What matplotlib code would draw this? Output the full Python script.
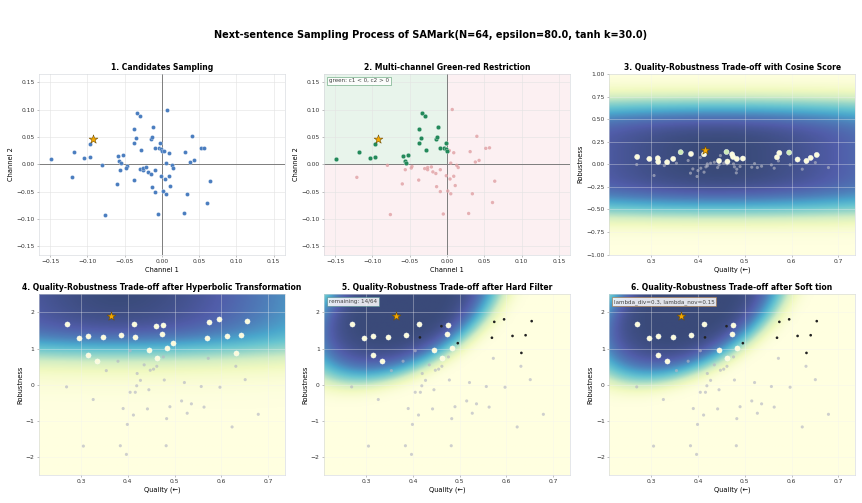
import numpy as np
import matplotlib
matplotlib.use("Agg")
import matplotlib.pyplot as plt
from matplotlib.patches import Rectangle

# ---- panel 1/2 : candidate channels (star = chosen) ----
ch1 = [-0.149, -0.118, -0.121, -0.104, -0.096, -0.096, -0.080, -0.076, -0.059, -0.057,
       -0.055, -0.056, -0.052, -0.060, -0.047, -0.048, -0.038, -0.037, -0.035, -0.038,
       -0.033, -0.029, -0.028, -0.030, -0.026, -0.026, -0.021, -0.019, -0.015, -0.014,
       -0.015, -0.013, -0.012, -0.009, -0.009, -0.009, -0.005, -0.004, -0.002, -0.001,
       -0.0005, -0.001, 0.001, 0.003, 0.005, 0.004, 0.005, 0.007, 0.009, 0.009,
       0.011, 0.013, 0.015, 0.029, 0.031, 0.034, 0.038, 0.040, 0.043, 0.052,
       0.057, 0.061, 0.064]
ch2 = [0.010, 0.023, -0.024, 0.012, 0.013, 0.037, -0.002, -0.092, 0.015, 0.006,
       0.002, -0.010, 0.016, -0.036, -0.004, -0.007, 0.039, 0.065, 0.048, -0.029,
       0.094, 0.089, 0.026, -0.008, -0.010, -0.006, -0.005, -0.014, -0.017, -0.041,
       0.047, 0.050, 0.068, 0.030, -0.010, -0.050, -0.091, 0.030, 0.039, 0.028,
       0.025, -0.021, -0.049, 0.025, 0.002, -0.027, -0.054, 0.100, 0.021, -0.022,
       -0.039, -0.002, -0.006, -0.090, 0.023, -0.054, 0.004, 0.051, 0.007, 0.029,
       0.030, -0.070, -0.031]
star_ch = (-0.092, 0.047)

# ---- panel 3 : cosine score ----
q3_sel = [0.270, 0.296, 0.314, 0.315, 0.334, 0.347, 0.363, 0.385, 0.413, 0.445, 0.461, 0.463,
          0.473, 0.475, 0.483, 0.496, 0.569, 0.574, 0.595, 0.613, 0.632, 0.641, 0.654]
r3_sel = [0.081, 0.059, 0.066, 0.026, 0.022, 0.059, 0.133, 0.114, 0.110, 0.037, 0.136, 0.029,
          0.110, 0.081, 0.059, 0.063, 0.077, 0.125, 0.129, 0.052, 0.037, 0.070, 0.103]
q3_rest = [0.269, 0.306, 0.328, 0.354, 0.379, 0.384, 0.389, 0.398, 0.400, 0.405, 0.406, 0.413,
           0.417, 0.420, 0.420, 0.427, 0.435, 0.442, 0.445, 0.448, 0.455, 0.462, 0.476, 0.478,
           0.482, 0.483, 0.490, 0.515, 0.521, 0.527, 0.536, 0.557, 0.563, 0.572, 0.597, 0.623,
           0.631, 0.651, 0.679]
r3_rest = [-0.004, -0.125, -0.015, 0.011, 0.041, -0.099, -0.052, -0.136, -0.070, 0.074, -0.044,
           -0.088, -0.029, 0.004, -0.018, 0.011, 0.022, -0.037, -0.007, 0.096, 0.011, 0.004,
           0.004, -0.029, -0.096, -0.055, -0.026, -0.033, 0.007, -0.037, -0.022, -0.007, -0.044,
           0.037, -0.007, -0.055, 0.018, 0.018, -0.037]
star3 = (0.415, 0.155)

# ---- panels 4-6 : after hyperbolic transform ----
q4_sel = [0.270, 0.296, 0.314, 0.315, 0.334, 0.347, 0.385, 0.413, 0.415, 0.445, 0.461, 0.463,
          0.473, 0.475, 0.483, 0.496, 0.569, 0.574, 0.595, 0.613, 0.632, 0.641, 0.654]
r4_sel = [1.69, 1.28, 1.36, 0.81, 0.67, 1.32, 1.39, 1.69, 1.31, 0.97, 1.62, 0.73,
          1.41, 1.65, 1.03, 1.15, 1.30, 1.74, 1.81, 1.35, 0.88, 1.37, 1.76]
kept = [1, 1, 1, 1, 1, 1, 1, 1, 0, 1, 0, 1,
        1, 1, 1, 0, 0, 0, 0, 0, 0, 0, 0]
q4_rest = [0.269, 0.305, 0.326, 0.354, 0.379, 0.384, 0.390, 0.397, 0.399, 0.405, 0.405, 0.412,
           0.416, 0.419, 0.420, 0.427, 0.435, 0.442, 0.445, 0.448, 0.455, 0.462, 0.476, 0.478,
           0.482, 0.483, 0.490, 0.515, 0.521, 0.527, 0.536, 0.557, 0.563, 0.572, 0.597, 0.623,
           0.631, 0.651, 0.679]
r4_rest = [-0.06, -1.70, -0.41, 0.39, 0.65, -1.69, -0.66, -1.93, -1.10, 0.94, -0.21, -0.84,
           -0.21, -0.03, 0.31, 0.12, 0.55, -0.67, -0.14, 0.40, 0.43, 0.51, 0.77, 0.13,
           -1.69, -0.94, -0.61, -0.45, 0.06, -0.79, -0.53, -0.05, -0.62, 0.73, -0.07, -1.17,
           0.51, 0.14, -0.82]
star4 = (0.364, 1.89)

XL = (0.21, 0.736)
cmap = "YlGnBu"
STAR = dict(marker="*", s=190, color="#f5a800", edgecolor="#6b4a00", linewidth=0.8, zorder=6)
GRAY = dict(s=22, color="#b4b6c4", alpha=0.65, edgecolor="none", zorder=3)


def style(ax):
    ax.grid(True, color="#e4e4e4", lw=0.9)
    ax.set_axisbelow(True)
    for sp in ax.spines.values():
        sp.set_color("#cfd3d8")
    ax.tick_params(labelsize=9, colors="#333333", length=3, color="#888888")


def heat(ax, z):
    ax.imshow(z, extent=(XL[0], XL[1], ylim[0], ylim[1]), origin="lower", aspect="auto",
              cmap=cmap, vmin=0, vmax=1, alpha=0.8, zorder=0, interpolation="bilinear")
    ax.grid(True, color="#f2f2f2", lw=0.9, alpha=0.55)


fig = plt.figure(figsize=(862 / 48, 503 / 48), dpi=48)
axs = fig.subplots(2, 3)
fig.subplots_adjust(left=0.0452, right=0.992, top=0.853, bottom=0.0557, wspace=0.159, hspace=0.221)
fig.suptitle("Next-sentence Sampling Process of SAMark(N=64, epsilon=80.0, tanh k=30.0)",
             fontsize=14.6, fontweight="bold", y=0.94)

c1 = np.array(ch1)
c2 = np.array(ch2)
green = (c1 < 0) & (c2 > 0)
lim = (-0.165, 0.165)
ticks = [-0.15, -0.10, -0.05, 0.0, 0.05, 0.10, 0.15]

# 1
ax = axs[0, 0]
style(ax)
ax.axhline(0, color="#808080", lw=1.5, zorder=1)
ax.axvline(0, color="#808080", lw=1.5, zorder=1)
ax.scatter(c1, c2, s=38, color="#4a7dbf", edgecolor="white", linewidth=0.4, zorder=3)
ax.scatter(*star_ch, **STAR)
ax.set_xlim(lim); ax.set_ylim(lim)
ax.set_xticks(ticks); ax.set_yticks(ticks)
ax.set_title("1. Candidates Sampling", fontsize=11.5, fontweight="bold")
ax.set_xlabel("Channel 1", fontsize=10); ax.set_ylabel("Channel 2", fontsize=10)

# 2
ax = axs[0, 1]
style(ax)
ax.set_facecolor("#fcf0f2")
ax.add_patch(Rectangle((lim[0], 0), -lim[0], lim[1], color="#e8f4eb", zorder=0))
ax.axhline(0, color="#808080", lw=1.5, zorder=1)
ax.axvline(0, color="#808080", lw=1.5, zorder=1)
ax.scatter(c1[~green], c2[~green], s=26, color="#e0a0a4", alpha=0.8, edgecolor="none", zorder=3)
ax.scatter(c1[green], c2[green], s=46, color="#23895a", edgecolor="white", linewidth=0.4, zorder=4)
ax.scatter(*star_ch, **STAR)
ax.set_xlim(lim); ax.set_ylim(lim)
ax.set_xticks(ticks); ax.set_yticks(ticks)
ax.text(0.02, 0.975, "green: c1 < 0, c2 > 0", transform=ax.transAxes, fontsize=8.5, va="top",
        color="#444444", bbox=dict(boxstyle="square,pad=0.3", fc="white", ec="#5a9f72", alpha=0.85))
ax.set_title("2. Multi-channel Green-red Restriction", fontsize=11.5, fontweight="bold")
ax.set_xlabel("Channel 1", fontsize=10); ax.set_ylabel("Channel 2", fontsize=10)

# 3
ax = axs[0, 2]
style(ax)
ylim = (-1.0, 1.0)
X, Y = np.meshgrid(np.linspace(*XL, 200), np.linspace(*ylim, 200))
z3 = np.exp(-((Y - 0.08) / 0.63) ** 4) * np.exp(-((X - 0.44) / 0.7) ** 2)
heat(ax, z3)
ax.scatter(q3_rest, r3_rest, **GRAY)
cols = np.where(np.array(r3_sel) > 0.128, "#cdebb8", "#fbfbdb")
ax.scatter(q3_sel, r3_sel, s=60, c=cols, edgecolor="white", linewidth=0.6, zorder=4)
ax.scatter(*star3, **STAR)
ax.set_xlim(XL); ax.set_ylim(ylim)
ax.set_yticks(np.arange(-1, 1.01, 0.25))
ax.yaxis.set_major_formatter("{x:.2f}")
ax.set_title("3. Quality-Robustness Trade-off with Cosine Score", fontsize=11.5, fontweight="bold")
ax.set_xlabel("Quality (←)", fontsize=10); ax.set_ylabel("Robustness", fontsize=10)

# 4-6
ylim = (-2.5, 2.5)
X, Y = np.meshgrid(np.linspace(*XL, 200), np.linspace(*ylim, 200))
z4 = 1 / (1 + np.exp(-(Y - 0.95) / 0.3)) * np.exp(-((X - 0.38) / 0.6) ** 2)
U = (X - 0.38) / 0.26
V = (Y - 2.2) / 2.05
d2 = 1.56 * U ** 2 - 1.11 * U * V + 1.0 * V ** 2
z5 = np.exp(-1.6 * d2 ** 3)
titles = ["4. Quality-Robustness Trade-off after Hyperbolic Transformation",
          "5. Quality-Robustness Trade-off after Hard Filter",
          "6. Quality-Robustness Trade-off after Soft tion"]
qs = np.array(q4_sel); rs = np.array(r4_sel); kp = np.array(kept, bool)
for i, ax in enumerate(axs[1]):
    style(ax)
    heat(ax, z4 if i == 0 else z5)
    ax.scatter(q4_rest, r4_rest, **GRAY)
    if i == 0:
        ax.scatter(qs, rs, s=60, color="#fbfbdb", edgecolor="white", linewidth=0.6, zorder=4)
    else:
        ax.scatter(qs[kp], rs[kp], s=60, color="#fbfbdb", edgecolor="white", linewidth=0.6, zorder=4)
        ax.scatter(qs[~kp], rs[~kp], s=16, color="#222222", edgecolor="none", zorder=4)
    ax.scatter(*star4, **STAR)
    ax.set_xlim(XL); ax.set_ylim(ylim)
    ax.set_yticks([-2, -1, 0, 1, 2])
    ax.set_title(titles[i], fontsize=11.5, fontweight="bold")
    ax.set_xlabel("Quality (←)", fontsize=10); ax.set_ylabel("Robustness", fontsize=10)

axs[1, 1].text(0.02, 0.975, "remaining: 14/64", transform=axs[1, 1].transAxes, fontsize=8.5,
               va="top", color="#444444",
               bbox=dict(boxstyle="square,pad=0.3", fc="white", ec="#4f8a8a", alpha=0.85))
axs[1, 2].text(0.02, 0.975, "lambda_div=0.3, lambda_nov=0.15", transform=axs[1, 2].transAxes,
               fontsize=8.5, va="top", color="#444444",
               bbox=dict(boxstyle="square,pad=0.3", fc="white", ec="#a8743c", alpha=0.85))

fig.savefig("out.png", dpi=48)
